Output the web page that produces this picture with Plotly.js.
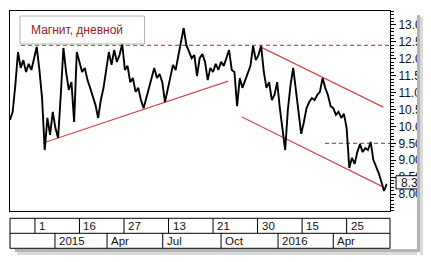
<!DOCTYPE html>
<html>
<head>
<meta charset="utf-8">
<script src="https://cdn.plot.ly/plotly-3.0.1.min.js"></script>
<style>html,body{margin:0;padding:0;background:#fff;}#chart{width:431px;height:262px;}</style>
</head>
<body>
<div id="chart"></div>
<script>
// Daily close of Magnit, sampled every 3 trading bars (bar index from left edge)
const BAR_STEP = 3;
const closes = [
 10.19,10.43,11.22,12.20,11.73,11.96,11.61,11.85,11.67,12.02,
 12.35,11.67,10.84,9.30,10.25,9.75,10.43,9.95,9.66,10.93,
 12.32,11.61,11.08,11.31,10.13,12.20,11.91,11.61,11.73,11.37,
 11.14,10.87,10.63,10.25,10.78,11.14,11.67,12.20,11.82,12.26,
 11.91,12.11,12.44,11.67,11.79,11.31,11.43,11.02,11.14,10.78,
 10.54,10.84,11.14,11.49,11.73,11.43,11.55,11.31,10.72,11.08,
 11.49,11.82,11.67,12.11,12.50,12.91,12.41,12.20,12.02,12.11,
 11.49,12.02,12.14,11.91,11.37,11.73,11.61,11.85,11.67,11.91,
 11.79,12.02,12.26,11.67,11.61,10.60,11.43,11.14,11.37,11.61,
 11.79,12.38,11.96,12.11,12.38,11.61,11.14,11.31,10.78,10.93,
 11.31,10.54,9.95,9.30,10.49,11.22,11.73,11.02,10.43,9.78,
 10.13,10.54,10.72,10.84,10.78,10.93,11.02,11.43,11.14,10.93,
 10.60,10.54,10.34,10.43,10.25,10.37,9.95,8.77,9.07,8.89,
 9.24,9.48,9.24,9.36,9.30,9.54,9.01,8.83,8.62,8.36,
 8.09,8.30
];
const lastPrice = 8.30;

// Date rows under the chart (bar index where each cell starts)
const weekLabels = ['1','16','27','13','21','30','15','25'];
const weekBars   = [28,78,128,178,228,278,328,378];
const monthLabels = ['2015','Apr','Jul','Oct','2016','Apr'];
const monthBars   = [50.5,109,171.5,237,301,363];

// Drawn lines (bar index, price)
const supportX = [37, 245],     supportY = [9.51, 11.34];
const chanTopX = [280.7, 419.2], chanTopY = [12.36, 10.57];
const chanBotX = [260.5, 418.8], chanBotY = [10.28, 8.21];
const resistX  = [12.4, 426.7],  resistY  = [12.4, 12.4];
const levelX   = [353.7, 426.7], levelY   = [9.5, 9.5];

const yTicks = [8.0,8.5,9.0,9.5,10.0,10.5,11.0,11.5,12.0,12.5,13.0];

const bars = closes.map((_, i) => i * BAR_STEP);

const traces = [
  {x: supportX, y: supportY, mode:'lines', line:{color:'#d24a4a', width:1.2}, hoverinfo:'skip'},
  {x: chanTopX, y: chanTopY, mode:'lines', line:{color:'#d24a4a', width:1.2}, hoverinfo:'skip'},
  {x: chanBotX, y: chanBotY, mode:'lines', line:{color:'#d24a4a', width:1.2}, hoverinfo:'skip'},
  {x: resistX, y: resistY, mode:'lines', line:{color:'#a02828', width:1, dash:'4px,3px'}, hoverinfo:'skip'},
  {x: levelX, y: levelY, mode:'lines', line:{color:'#a02828', width:1, dash:'4px,3px'}, hoverinfo:'skip'},
  {x: bars, y: closes, mode:'lines', line:{color:'#000', width:1.9}, hoverinfo:'skip'}
];

// paper helpers: plot area is 380 x 200 px starting at (10, 11)
const px = v => (v - 10) / 380;
const py = v => (211 - v) / 200;

const shapes = [];
const annotations = [];

// date rows frame
shapes.push({type:'rect', xref:'paper', yref:'paper', x0:0, x1:1, y0:py(248.3), y1:py(218.3), line:{color:'#000', width:1}, fillcolor:'rgba(0,0,0,0)'});
shapes.push({type:'line', xref:'paper', yref:'paper', x0:0, x1:1, y0:py(233.3), y1:py(233.3), line:{color:'#000', width:1}});
weekBars.forEach((b, i) => {
  shapes.push({type:'line', xref:'x', yref:'paper', x0:b, x1:b, y0:py(233.3), y1:py(218.3), line:{color:'#000', width:1}});
  annotations.push({xref:'x', yref:'paper', x:b, y:py(225.8), xanchor:'left', yanchor:'middle', xshift:2, text:weekLabels[i], showarrow:false, font:{family:'Arial, Liberation Sans', size:11.5, color:'#111'}});
});
monthBars.forEach((b, i) => {
  shapes.push({type:'line', xref:'x', yref:'paper', x0:b, x1:b, y0:py(248.3), y1:py(233.3), line:{color:'#000', width:1}});
  annotations.push({xref:'x', yref:'paper', x:b, y:py(240.8), xanchor:'left', yanchor:'middle', xshift:2, text:monthLabels[i], showarrow:false, font:{family:'Arial, Liberation Sans', size:11.5, color:'#111'}});
});

// title box
shapes.push({type:'rect', xref:'paper', yref:'paper', x0:px(20), x1:px(144.5), y0:py(44), y1:py(16), line:{color:'#b4b4b4', width:1}, fillcolor:'#fff', layer:'above'});
annotations.push({xref:'paper', yref:'paper', x:px(29), y:py(29.5), xanchor:'left', yanchor:'middle', text:'Магнит, дневной', showarrow:false, font:{family:'Arial, Liberation Sans', size:12, color:'#8e2323'}});

// last price box
shapes.push({type:'rect', xref:'paper', yref:'y', x0:px(396), x1:px(430), y0:lastPrice - 0.15, y1:lastPrice + 0.24, line:{color:'#000', width:1}, fillcolor:'#fff', layer:'above',
  label:{text:lastPrice.toFixed(2), textposition:'middle left', padding:2, font:{family:'Arial, Liberation Sans', size:12, color:'#111'}}});

// window edge: white cover + drop shadow
shapes.push({type:'rect', xref:'paper', yref:'paper', x0:px(417), x1:px(440), y0:py(270), y1:py(0), line:{width:0}, fillcolor:'#fff', layer:'above'});
shapes.push({type:'rect', xref:'paper', yref:'paper', x0:px(417), x1:px(420), y0:py(252), y1:py(15), line:{width:0}, fillcolor:'#b4b4b4', layer:'above'});
shapes.push({type:'rect', xref:'paper', yref:'paper', x0:px(420), x1:px(423), y0:py(255), y1:py(17), line:{width:0}, fillcolor:'#dadada', layer:'above'});
shapes.push({type:'rect', xref:'paper', yref:'paper', x0:px(15), x1:px(420), y0:py(252), y1:py(249), line:{width:0}, fillcolor:'#b4b4b4', layer:'below'});
shapes.push({type:'rect', xref:'paper', yref:'paper', x0:px(17), x1:px(423), y0:py(255), y1:py(252), line:{width:0}, fillcolor:'#dadada', layer:'below'});

const layout = {
  width:431, height:262,
  margin:{l:10, r:41, t:11, b:51, pad:0},
  paper_bgcolor:'#fff', plot_bgcolor:'#fff',
  showlegend:false,
  xaxis:{range:[0, 426.7], showgrid:false, zeroline:false, showticklabels:false, ticks:'',
         showline:true, mirror:true, linecolor:'#000', linewidth:1, fixedrange:true},
  yaxis:{range:[7.497, 13.414], side:'right', showgrid:false, zeroline:false,
         tickmode:'array', tickvals:yTicks, ticktext:yTicks.map(v => v.toFixed(2)),
         ticks:'outside', ticklen:5, tickcolor:'#000', tickwidth:1,
         minor:{dtick:0.1, ticks:'outside', ticklen:3, tickcolor:'#000', tickwidth:1},
         tickfont:{family:'Arial, Liberation Sans', size:12, color:'#111'},
         showline:true, mirror:true, linecolor:'#000', linewidth:1, fixedrange:true},
  shapes: shapes,
  annotations: annotations
};

Plotly.newPlot('chart', traces, layout, {displayModeBar:false, staticPlot:true});
</script>
</body>
</html>
